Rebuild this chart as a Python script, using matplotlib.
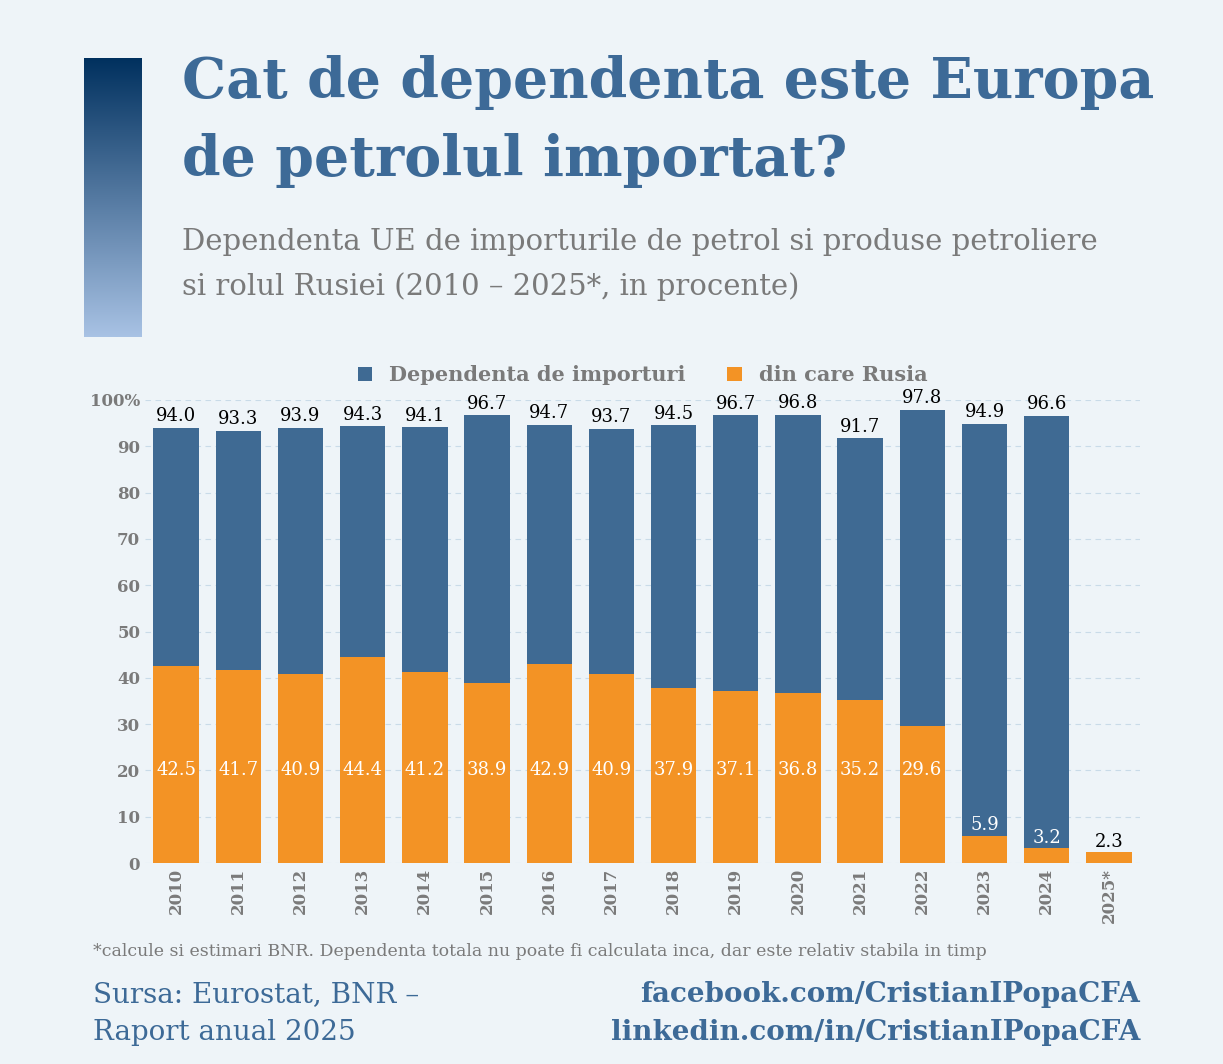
import matplotlib
matplotlib.use("Agg")
import matplotlib.pyplot as plt
import numpy as np

years = ["2010","2011","2012","2013","2014","2015","2016","2017","2018","2019","2020","2021","2022","2023","2024","2025*"]
total = [94.0,93.3,93.9,94.3,94.1,96.7,94.7,93.7,94.5,96.7,96.8,91.7,97.8,94.9,96.6,None]
russia = [42.5,41.7,40.9,44.4,41.2,38.9,42.9,40.9,37.9,37.1,36.8,35.2,29.6,5.9,3.2,2.3]

BG = "#eef4f8"; BLUE = "#3f6a93"; ORANGE = "#f39325"; TITLE = "#3d6a97"; GRAY = "#7a7a7a"
plt.rcParams['font.family'] = ['DejaVu Serif']

fig = plt.figure(figsize=(12.23, 10.64), dpi=100, facecolor=BG)
W, H = 1223, 1064

# gradient bar
gax = fig.add_axes([84/W, 1-337/H, 58/W, 279/H])
grad = np.linspace(0, 1, 256).reshape(-1, 1)
from matplotlib.colors import LinearSegmentedColormap
cm = LinearSegmentedColormap.from_list("g", ["#00305e", "#a8c2e4"])
gax.imshow(grad, aspect="auto", cmap=cm)
gax.axis("off")

fig.text(182/W, 1-83/H, "Cat de dependenta este Europa", fontsize=40, fontweight="bold", color=TITLE, va="center")
fig.text(182/W, 1-160/H, "de petrolul importat?", fontsize=40, fontweight="bold", color=TITLE, va="center")
fig.text(182/W, 1-242/H, "Dependenta UE de importurile de petrol si produse petroliere", fontsize=21, color=GRAY, va="center")
fig.text(182/W, 1-287/H, "si rolul Rusiei (2010 – 2025*, in procente)", fontsize=21, color=GRAY, va="center")

ax = fig.add_axes([145/W, 1-863/H, 995/W, 463/H])
ax.set_facecolor(BG)
x = np.arange(len(years))
tot = [t if t is not None else 0 for t in total]
ax.bar(x, tot, width=0.73, color=BLUE, zorder=3, label="Dependenta de importuri")
ax.bar(x, russia, width=0.73, color=ORANGE, zorder=3, label="din care Rusia")
for i in range(len(years)):
    if total[i] is not None:
        ax.text(i, total[i] + 0.6, f"{total[i]:.1f}", ha="center", va="bottom", fontsize=13)
    if russia[i] > 10:
        ax.text(i, 20, f"{russia[i]:.1f}", ha="center", va="center", fontsize=13, color="white")
    else:
        ax.text(i, russia[i] + 0.3, f"{russia[i]:.1f}", ha="center", va="bottom", fontsize=13,
                color="white" if total[i] is not None else "black")
ax.set_ylim(0, 100)
ax.set_xlim(-0.5, len(years) - 0.5)
ax.set_yticks(range(0, 101, 10))
ax.set_yticklabels([str(v) for v in range(0, 100, 10)] + ["100%"])
ax.set_xticks(x)
ax.set_xticklabels(years, rotation=90)
ax.tick_params(length=0, labelcolor=GRAY, labelsize=12)
for t in ax.get_xticklabels() + ax.get_yticklabels():
    t.set_fontweight("bold")
ax.grid(axis="y", color="#c9dbe8", linestyle=(0, (5, 4)), zorder=0)
for s in ax.spines.values():
    s.set_visible(False)
ax.legend(loc="lower center", bbox_to_anchor=(0.5, 1.0), ncol=2, frameon=False,
          prop={"weight": "bold", "size": 15}, labelcolor=GRAY, handlelength=0.7,
          handleheight=0.7, columnspacing=2, borderaxespad=0.3)

fig.text(93/W, 1-951/H, "*calcule si estimari BNR. Dependenta totala nu poate fi calculata inca, dar este relativ stabila in timp",
         fontsize=12.5, color=GRAY, va="center")
fig.text(93/W, 1-995/H, "Sursa: Eurostat, BNR –", fontsize=20, color=TITLE, va="center")
fig.text(93/W, 1-1032/H, "Raport anual 2025", fontsize=20, color=TITLE, va="center")
fig.text(1140/W, 1-995/H, "facebook.com/CristianIPopaCFA", fontsize=20, color=TITLE, va="center", ha="right", fontweight="bold")
fig.text(1140/W, 1-1032/H, "linkedin.com/in/CristianIPopaCFA", fontsize=20, color=TITLE, va="center", ha="right", fontweight="bold")

fig.savefig("out.png", dpi=100, facecolor=BG)
